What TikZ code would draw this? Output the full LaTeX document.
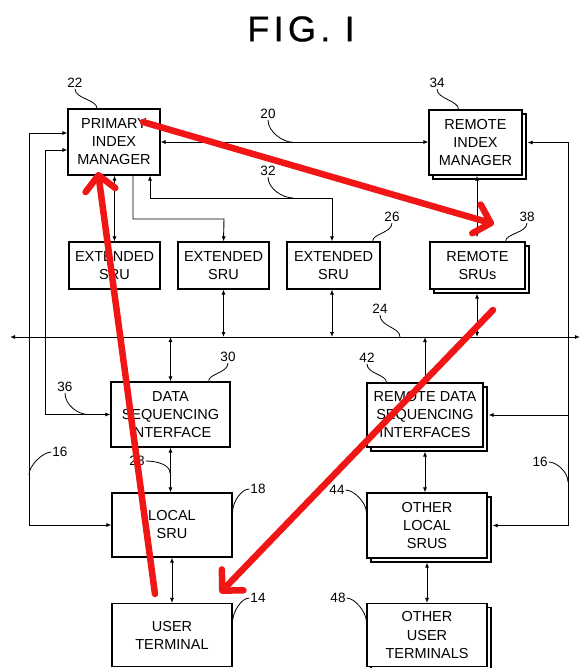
\documentclass[tikz,border=0pt]{standalone}
\usepackage{fontspec}
\setmainfont{Liberation Sans}
\usetikzlibrary{arrows.meta,shadows}
\definecolor{redmark}{RGB}{240,22,22}
\begin{document}
\begin{tikzpicture}[x=1pt,y=-1pt,
  box/.style={draw,line width=1.1pt,fill=white,inner sep=0pt,align=center,
    font=\fontsize{14.5}{18}\selectfont},
  stack/.style={box,copy shadow={shadow xshift=4pt,shadow yshift=-4pt,draw,line width=1.1pt,fill=white}},
  wire/.style={line width=0.9pt},
  biarr/.style={wire,{Latex[length=5pt,width=4pt]}-{Latex[length=5pt,width=4pt]}},
  onearr/.style={wire,-{Latex[length=5pt,width=4pt]}},
  lbl/.style={font=\fontsize{13.5}{13.5}\selectfont,inner sep=1pt},
  lead/.style={line width=0.8pt},
  redarrow/.style={draw=redmark,line width=6.5pt,line cap=round,
    -{Straight Barb[length=15pt,width=30pt,line cap=round,line join=round]}}
]
\useasboundingbox (0,0) rectangle (582,668);

% title
\node[font=\fontsize{36}{36}\selectfont\addfontfeature{LetterSpace=12,FakeBold=0.6}] (title) at (301,29) {FIG. I};

% boxes
\node[box,minimum width=92pt,minimum height=66pt] (pim) at (114,142) {PRIMARY\\INDEX\\MANAGER};
\node[stack,minimum width=93pt,minimum height=65pt] (rim) at (475.5,142.5) {REMOTE\\INDEX\\MANAGER};
\node[box,minimum width=91pt,minimum height=47pt] (e1) at (114.5,265.5) {EXTENDED\\SRU};
\node[box,minimum width=91pt,minimum height=47pt] (e2) at (223.5,265.5) {EXTENDED\\SRU};
\node[box,minimum width=93pt,minimum height=47pt] (e3) at (333.5,265.5) {EXTENDED\\SRU};
\node[stack,minimum width=95pt,minimum height=47pt] (rsru) at (477.5,265.5) {REMOTE\\SRUs};
\node[box,minimum width=119pt,minimum height=65pt] (dsi) at (170.5,414.5) {DATA\\SEQUENCING\\INTERFACE};
\node[stack,minimum width=116pt,minimum height=64pt] (rdsi) at (425,415) {REMOTE DATA\\SEQUENCING\\INTERFACES};
\node[box,minimum width=120pt,minimum height=64pt] (lsru) at (172,525) {LOCAL\\SRU};
\node[stack,minimum width=120pt,minimum height=65pt] (olsru) at (427,525.5) {OTHER\\LOCAL\\SRUS};
\node[box,minimum width=120pt,minimum height=63pt] (ut) at (172,635) {USER\\TERMINAL};
\node[stack,minimum width=120pt,minimum height=63pt] (out) at (427,635) {OTHER\\USER\\TERMINALS};

% bus 24
\coordinate (busL) at (10,337);
\coordinate (busR) at (580,337);
\draw[biarr] (busL) -- (busR);

% top links
\draw[biarr] (pim.east) -- (pim.east -| rim.west);
\draw[biarr] (pim.south -| e1.north) -- (e1.north);
\draw[onearr] ([xshift=19pt]pim.south) |- (224,219) -- (e2.north);
\draw[biarr] ([xshift=36pt]pim.south) |- (332,198) -- (e3.north -| 332,0);
\draw[biarr] (rim.south -| 477,0) -- ([yshift=4pt]rsru.north -| 477,0);

% SRUs to bus
\draw[biarr] (e2.south) -- (e2.south |- busL);
\draw[biarr] (e3.south -| 332,0) -- (busL -| 332,0);
\draw[biarr] ([yshift=-4pt]rsru.south -| 477,0) -- (busL -| 477,0);

% bus to lower boxes
\draw[biarr] (busL -| dsi.north) -- (dsi.north);
\draw[biarr] (busL -| rdsi.north) -- (rdsi.north);
\draw[biarr] (dsi.south) -- (dsi.south |- lsru.north);
\draw[biarr] (lsru.south) -- (ut.north);
\draw[biarr] ([yshift=-4pt]rdsi.south) -- (rdsi.south |- olsru.north);
\draw[biarr] ([yshift=-4pt]olsru.south) -- (out.north);

% left loops 16 and 36
\coordinate (c16a) at (29,133);
\coordinate (c16b) at (29,525);
\draw[biarr] ([yshift=9pt]pim.west) -- (c16a) -- (c16b) -- (lsru.west);
\coordinate (c36a) at (45,150);
\coordinate (c36b) at (45,414.5);
\draw[biarr] ([yshift=-8pt]pim.west) -- (c36a) -- (c36b) -- (dsi.west);

% right loop 16
\coordinate (r16a) at (568,142.5);
\coordinate (r16b) at (568,525.5);
\coordinate (r16c) at (568,415);
\draw[biarr] ([xshift=5pt]rim.east) -- (r16a) -- (r16b) -- ([xshift=5pt]olsru.east);
\draw[onearr] (r16c) -- ([xshift=5pt]rdsi.east);

% reference numerals
\node[lbl] (n22) at (75,83) {22};
\node[lbl] (n34) at (437,83) {34};
\node[lbl] (n20) at (268,114) {20};
\node[lbl] (n32) at (268,171) {32};
\node[lbl] (n26) at (392,217) {26};
\node[lbl] (n38) at (527,217) {38};
\node[lbl] (n24) at (380,309) {24};
\node[lbl] (n30) at (228,357) {30};
\node[lbl] (n42) at (367,358) {42};
\node[lbl] (n36) at (65,387) {36};
\node[lbl] (n16l) at (60,452) {16};
\node[lbl] (n28) at (137,461) {28};
\node[lbl] (n18) at (258,489) {18};
\node[lbl] (n14) at (258,598) {14};
\node[lbl] (n44) at (337,490) {44};
\node[lbl] (n48) at (338,598) {48};
\node[lbl] (n16r) at (540,462) {16};

% leaders
\draw[lead] (n22.south) .. controls +(0,10) and +(0,-9) .. ([xshift=-17pt]pim.north);
\draw[lead] (n34.south) .. controls +(0,10) and +(0,-9) .. ([xshift=-17pt]rim.north);
\draw[lead] (n20.south) .. controls +(0,12) and +(-10,0) .. (293,142.3);
\draw[lead] (n32.south) .. controls +(0,12) and +(-10,0) .. (293,198);
\draw[lead] (n26.south) .. controls +(0,10) and +(0,-8) .. ([xshift=-8pt]e3.north east);
\draw[lead] (n38.south) .. controls +(0,10) and +(0,-8) .. ([xshift=-20pt]rsru.north east);
\draw[lead] (n24.south) .. controls +(0,12) and +(0,-10) .. (400,337);
\draw[lead] (n30.south) .. controls +(0,10) and +(0,-8) .. ([xshift=-22pt]dsi.north east);
\draw[lead] (n42.south) .. controls +(0,10) and +(0,-8) .. ([xshift=20pt]rdsi.north west);
\draw[lead] (n36.south) .. controls +(0,12) and +(-10,0) .. (88,414.5);
\draw[lead] (n16l.west) .. controls +(-8,0) and +(0,-10) .. (29,475);
\draw[lead] (n28.east) .. controls +(12,0) and +(0,-8) .. (170,473);
\draw[lead] (n18.west) .. controls +(-8,0) and +(0,-10) .. ([yshift=13pt]lsru.east);
\draw[lead] (n14.west) .. controls +(-8,0) and +(0,-10) .. ([yshift=13pt]ut.east);
\draw[lead] (n44.east) .. controls +(8,0) and +(0,-10) .. ([yshift=13pt]olsru.west);
\draw[lead] (n48.east) .. controls +(8,0) and +(0,-10) .. ([yshift=13pt]out.west);
\draw[lead] (n16r.east) .. controls +(8,0) and +(0,-10) .. (568,482);

% red annotation arrows
\coordinate (ra1) at (143,122);
\coordinate (ra2) at (494,224);
\coordinate (rb1) at (155,594);
\coordinate (rb2) at (98,172);
\coordinate (rc1) at (493,310);
\coordinate (rc2) at (220,593);
\draw[redarrow] (ra1) -- (ra2);
\draw[redarrow] (rb1) -- (rb2);
\draw[redarrow] (rc1) -- (rc2);
\end{tikzpicture}
\end{document}
